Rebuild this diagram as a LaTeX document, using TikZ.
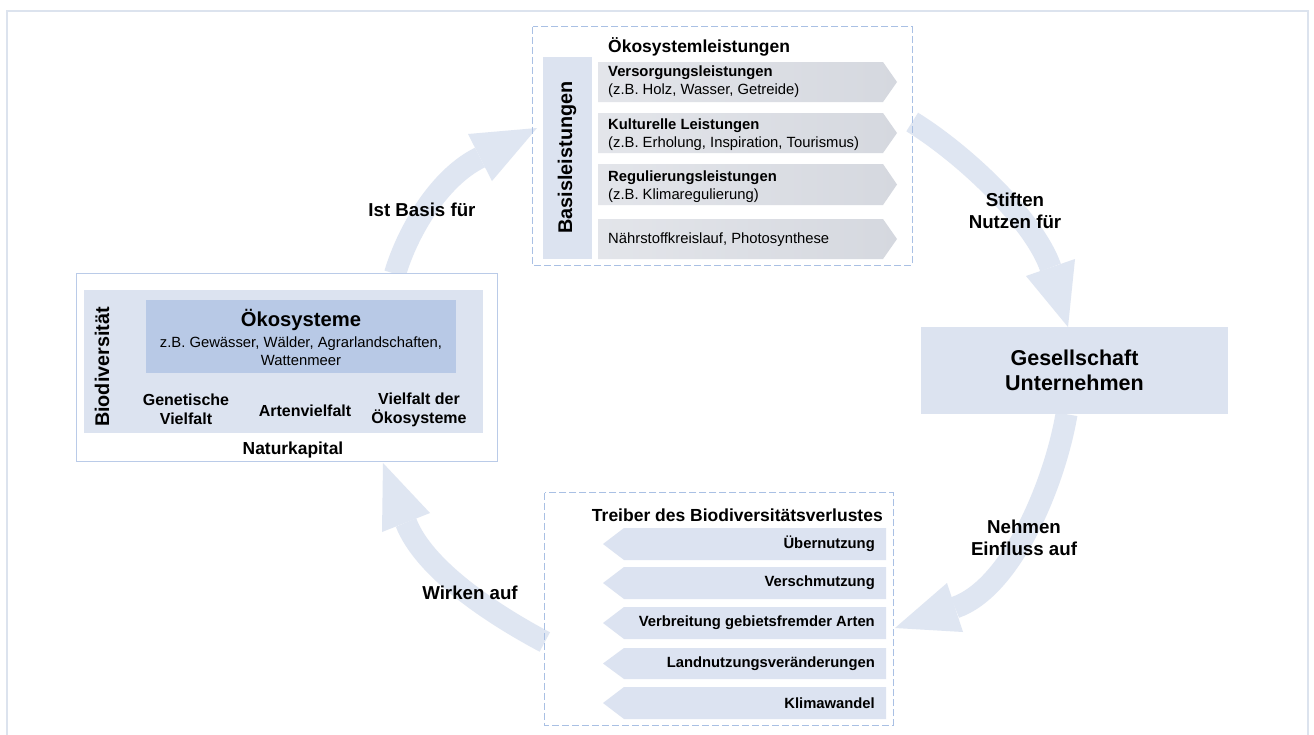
\documentclass[tikz,border=0pt]{standalone}
\usepackage{fontspec}
\setmainfont{Liberation Sans}
\usetikzlibrary{calc}
\definecolor{arrowc}{HTML}{DFE6F2}
\definecolor{bandc}{HTML}{DCE3F0}
\definecolor{okoc}{HTML}{B8C9E6}
\definecolor{nkborder}{HTML}{BACBE8}
\definecolor{dashc}{HTML}{A9C0E4}
\definecolor{rowgrayL}{HTML}{E3E5EA}
\definecolor{rowgrayR}{HTML}{D5D8DF}
\definecolor{rowblue}{HTML}{DCE3F1}
\definecolor{framec}{HTML}{DCE3EE}
\newcommand\EcoRow[2]{\shade[left color=rowgrayL,right color=rowgrayR] (598,#1) -- (883,#1) -- (897,{(#1+#2)/2}) -- (883,#2) -- (598,#2) -- cycle;}
\newcommand\DrvRow[2]{\fill[rowblue] (886,#1) -- (624,#1) -- (603,{(#1+#2)/2}) -- (624,#2) -- (886,#2) -- cycle;}
\begin{document}
\begin{tikzpicture}[x=1pt,y=-1pt,
  dashbox/.style={draw=dashc, line width=1.1pt, dash pattern=on 7pt off 3pt, inner sep=0pt},
  plainbox/.style={inner sep=0pt},
  shaft/.style={draw=arrowc, line width=22pt},
  head/.style={fill=arrowc},
  rowtxt/.style={inner sep=0pt, align=left, font=\fontsize{14.8}{18}\selectfont},
  drvtxt/.style={inner sep=0pt, font=\bfseries\fontsize{14.8}{18}\selectfont},
  title/.style={inner sep=0pt, font=\bfseries\fontsize{17.5}{21}\selectfont},
  vtitle/.style={inner sep=0pt, rotate=90, font=\bfseries\fontsize{19.8}{23}\selectfont},
  lbl/.style={inner sep=0pt, align=center, font=\bfseries\fontsize{18.7}{22}\selectfont},
  divtxt/.style={inner sep=0pt, align=center, font=\bfseries\fontsize{16}{19}\selectfont}
]
\useasboundingbox (0,0) rectangle (1314,734);
\fill[white] (0,0) rectangle (1314,734);
\draw[framec, line width=1.5pt] (7,736) -- (7,11) -- (1308,11) -- (1308,736);

% --- boxes (geometry nodes) ---
\node[plainbox, minimum width=420pt, minimum height=187pt] (nk) at (287,367.5) {};
\node[plainbox, minimum width=379pt, minimum height=238pt] (eco) at (722.5,146) {};
\node[plainbox, minimum width=348pt, minimum height=232pt] (drv) at (719,609) {};
\node[plainbox, fill=bandc, minimum width=307pt, minimum height=87pt] (ges) at (1074.5,370.5) {};

% --- big curved arrows ---
\coordinate (h1a) at (468,134); \coordinate (h1t) at (537,128); \coordinate (h1b) at (492,181);
\coordinate (h2a) at (1026,276); \coordinate (h2t) at (1068,327); \coordinate (h2b) at (1075,259);
\coordinate (h3a) at (947,583); \coordinate (h3t) at (895,628); \coordinate (h3b) at (963,632);
\coordinate (h4a) at (382,532); \coordinate (h4t) at (383,463); \coordinate (h4b) at (430,513);

\draw[shaft] ([xshift=108pt]nk.north) .. controls (408,230) and (440,177) .. ($(h1a)!0.5!(h1b)$);
\fill[head] (h1a) -- (h1t) -- (h1b) -- cycle;
\draw[shaft] ([yshift=24pt]eco.east) .. controls (964,154) and (1034,220) .. ($(h2a)!0.5!(h2b)$);
\fill[head] (h2a) -- (h2t) -- (h2b) -- cycle;
\draw[shaft] ([xshift=-8pt]ges.south) .. controls (1055,482) and (1012,588) .. ($(h3a)!0.5!(h3b)$);
\fill[head] (h3a) -- (h3t) -- (h3b) -- cycle;
\draw[shaft] ([yshift=-33pt]drv.west) .. controls (492,614) and (424,569) .. ($(h4a)!0.5!(h4b)$);
\fill[head] (h4a) -- (h4t) -- (h4b) -- cycle;

% re-fill Gesellschaft box over shaft ends
\node[plainbox, fill=bandc, minimum width=307pt, minimum height=87pt] (ges2) at (ges) {};

% --- Naturkapital box ---
\draw[nkborder, fill=white, line width=1.3pt] (nk.north west) rectangle (nk.south east);
\node[plainbox, fill=bandc, minimum width=399pt, minimum height=143pt] (bio) at (283.5,361.5) {};
\node[plainbox, fill=okoc, minimum width=310pt, minimum height=73pt] (oko) at (301,336.5) {};
\node[inner sep=0pt, font=\bfseries\fontsize{20.2}{24}\selectfont] (okot) at (301,320) {Ökosysteme};
\node[rowtxt, align=center] (okob) at (301,351) {z.B. Gewässer, Wälder, Agrarlandschaften,\\Wattenmeer};
\node[vtitle] (biot) at (102,367) {Biodiversität};
\node[divtxt] (gen) at (186,409.5) {Genetische\\Vielfalt};
\node[divtxt] (art) at (305,411) {Artenvielfalt};
\node[divtxt] (vdo) at (419,409.5) {Vielfalt der\\Ökosysteme};
\node[inner sep=0pt, font=\bfseries\fontsize{17.4}{21}\selectfont] (nkt) at (293,450) {Naturkapital};

% --- Ökosystemleistungen box ---
\draw[dashbox] (eco.north west) rectangle (eco.south east);
\node[plainbox, fill=bandc, minimum width=49pt, minimum height=202pt] (basis) at (567.5,158) {};
\node[vtitle] (basist) at (567,157.5) {Basisleistungen};
\node[title, anchor=west] (ecot) at (608,47) {Ökosystemleistungen};
\EcoRow{62}{102}
\EcoRow{113}{153}
\EcoRow{164}{205}
\EcoRow{219}{259}
\node[rowtxt, anchor=west] (e1) at (608,82) {\textbf{Versorgungsleistungen}\\(z.B. Holz, Wasser, Getreide)};
\node[rowtxt, anchor=west] (e2) at (608,135) {\textbf{Kulturelle Leistungen}\\(z.B. Erholung, Inspiration, Tourismus)};
\node[rowtxt, anchor=west] (e3) at (608,186.5) {\textbf{Regulierungsleistungen}\\(z.B. Klimaregulierung)};
\node[rowtxt, anchor=west] (e4) at (608,240) {Nährstoffkreislauf, Photosynthese};

% --- Treiber box ---
\draw[dashbox] (drv.north west) rectangle (drv.south east);
\node[title, anchor=east] (drvt) at (883,515) {Treiber des Biodiversitätsverlustes};
\DrvRow{528}{560}
\DrvRow{567}{599}
\DrvRow{607}{639}
\DrvRow{648}{679}
\DrvRow{687}{719}
\node[drvtxt, anchor=east] (d1) at (875,544) {Übernutzung};
\node[drvtxt, anchor=east] (d2) at (875,583) {Verschmutzung};
\node[drvtxt, anchor=east] (d3) at (875,623) {Verbreitung gebietsfremder Arten};
\node[drvtxt, anchor=east] (d4) at (875,663.5) {Landnutzungsveränderungen};
\node[drvtxt, anchor=east] (d5) at (875,703) {Klimawandel};

% --- Gesellschaft text ---
\node[inner sep=0pt, align=center, font=\bfseries\fontsize{21.5}{25}\selectfont] (gest) at (ges) {Gesellschaft\\Unternehmen};

% --- arrow labels ---
\node[lbl] (l1) at (422,210) {Ist Basis für};
\node[lbl] (l2) at (1015,211) {Stiften\\Nutzen für};
\node[lbl] (l3) at (1024,537.5) {Nehmen\\Einfluss auf};
\node[lbl] (l4) at (470,593) {Wirken auf};
\end{tikzpicture}
\end{document}
